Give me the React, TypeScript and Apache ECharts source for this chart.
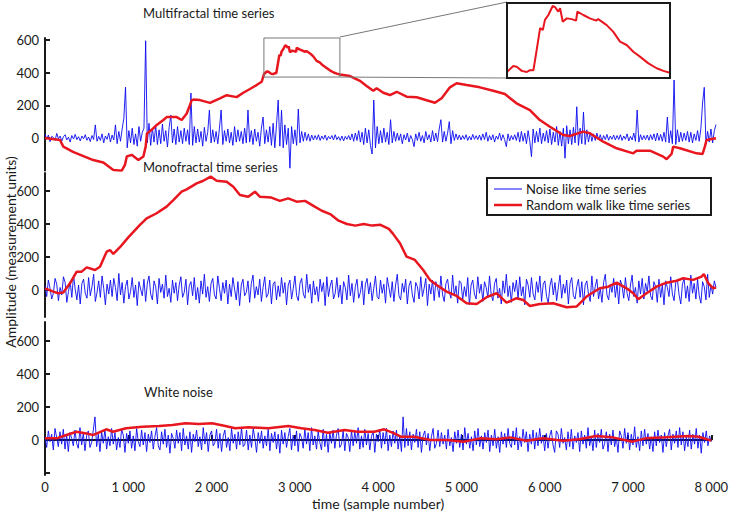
import React, { useEffect, useRef } from "react";
import * as echarts from "echarts";

// ---------- DATA ----------
const X_STEP = 20; // sample spacing of the hand-read noise traces

const MULTI_WALK: [number, number][] = [
  [0, 0], [179, -12], [218, -53], [334, -85], [575, -135], [695, -150], [815, -196], [915, -200],
  [953, -165], [975, -113], [1033, -103], [1113, -135], [1173, -113], [1200, -53], [1216, 28],
  [1272, 50], [1332, 80], [1411, 110], [1451, 128], [1570, 128], [1630, 110], [1690, 150],
  [1750, 232], [1770, 235], [1848, 232], [1967, 215], [2086, 243], [2166, 262], [2285, 250],
  [2364, 277], [2444, 300], [2523, 324], [2583, 344],
  [2612, 392], [2645, 407], [2664, 405], [2692, 394], [2720, 391], [2738, 396], [2757, 396],
  [2775, 450], [2794, 508], [2809, 503], [2821, 530], [2840, 543], [2864, 567], [2877, 564],
  [2895, 552], [2905, 561], [2920, 525], [2942, 534], [2970, 532], [2994, 528], [3001, 552],
  [3034, 543], [3071, 534], [3105, 528], [3117, 532], [3164, 516], [3201, 498], [3238, 472],
  [3275, 463], [3312, 445], [3349, 432], [3396, 414], [3442, 401], [3479, 394], [3516, 389],
  [3636, 379], [3755, 350], [3834, 318], [3914, 289], [3954, 304], [4033, 277], [4113, 263],
  [4193, 283], [4312, 253], [4431, 249], [4510, 237], [4649, 216], [4729, 243], [4828, 310],
  [4907, 335], [5027, 324], [5185, 310], [5344, 289], [5483, 269], [5622, 212], [5781, 171],
  [5900, 110], [6020, 69], [6178, 18], [6258, 12], [6417, 39], [6496, 29], [6655, -23],
  [6815, -63], [7013, -94], [7053, -78], [7212, -78], [7371, -114], [7411, -130], [7470, -98],
  [7490, -53], [7570, -63], [7768, -94], [7840, -98], [7867, -53], [7887, -12], [8000, -2],
];

const MONO_WALK: [number, number][] = [
  [0, 10], [99, -10], [159, -20], [218, -16], [298, 40], [378, 111], [437, 111], [497, 137],
  [596, 121], [656, 141], [735, 232], [775, 242], [815, 218], [894, 259], [993, 319],
  [1132, 394], [1212, 434], [1331, 465], [1450, 505], [1530, 545], [1629, 596], [1689, 610],
  [1808, 646], [1887, 662], [1975, 687], [2046, 662], [2166, 656], [2245, 626], [2324, 576],
  [2423, 565], [2503, 596], [2563, 565], [2700, 560], [2800, 540], [2900, 555], [3000, 535],
  [3100, 540], [3200, 510], [3300, 480], [3400, 460], [3500, 420], [3600, 400], [3700, 390],
  [3800, 400], [3900, 390], [4000, 395], [4100, 370], [4150, 340], [4232, 283], [4311, 202],
  [4410, 182], [4509, 121], [4589, 61], [4669, 30], [4788, -10], [4907, -36], [5027, -81],
  [5146, -85], [5265, -44], [5384, -20], [5503, -77], [5622, -50], [5702, -61], [5781, -97],
  [5900, -85], [6059, -81], [6218, -105], [6337, -101], [6457, -40], [6615, 10], [6715, 20],
  [6815, 44], [6934, 10], [7013, -20], [7073, -56], [7172, -20], [7291, 20], [7411, 44],
  [7530, 56], [7609, 71], [7728, 61], [7828, 81], [7855, 97], [7907, 41], [7967, 10], [8000, 15],
];

const WHITE_WALK: [number, number][] = [
  [0, 10], [139, 10], [258, 30], [378, 50], [497, 40], [576, 30], [735, 65], [815, 50],
  [974, 71], [1172, 81], [1371, 85], [1530, 91], [1689, 101], [1848, 97], [2006, 101],
  [2166, 85], [2285, 71], [2444, 77], [2682, 71], [2920, 85], [3079, 71], [3238, 61],
  [3397, 44], [3596, 61], [3755, 50], [3954, 50], [4073, 65], [4193, 40], [4272, 20],
  [4431, 20], [4629, 0], [4828, 0], [5027, -10], [5225, 10], [5424, 4], [5583, 16],
  [5781, -4], [5980, 10], [6218, -4], [6417, 4], [6615, 24], [6815, 16], [7053, -10],
  [7212, 10], [7450, 16], [7728, 24], [7847, 20], [8000, -4],
];

const MULTI_NOISE = [
  25, -8, 18, -22, 10, 3, -15, 28, -5, 12, -18, 8, 20, -12, 5, -25, 15, -6, 22, -10,
  8, -18, 12, -5, 20, -14, 6, -22, 15, -9, 80, -20, 10, -15, 25, -30, 12, -8, 30, -25,
  18, -12, 80, -35, 40, -20, 55, 120, 311, -60, 45, -30, 60, -40, 25, -50, 70, -20, 35, 60,
  595, -30, 90, -45, 60, -25, 75, -40, 50, -35, 85, -20, 45, -55, 65, 140, -30, 55, -40, 70,
  -25, 45, -35, 60, -20, 50, -40, 275, -45, 70, -30, 55, -25, 40, -50, 65, -20, 35, 171, -30,
  50, -25, 40, -35, 60, 171, -40, 45, -20, 55, -30, 35, -45, 70, -25, 50, -20, 40, -35, 60,
  -30, 171, -25, 45, -40, 55, -20, 35, -50, 60, 128, -35, 50, -25, 70, -45, 90, -60, 80, 232,
  -50, 171, -60, 80, -40, 60, -185, 70, -35, 50, -45, 177, -30, 40, -20, 35, -15, 25, -20, 18,
  -12, 15, -10, 20, -15, 12, -8, 18, -14, 10, -6, 15, -12, 20, -10, 8, -15, 12, -18, 10,
  -8, 15, -12, 25, -20, 30, -15, 45, -25, 35, -40, 60, -30, 50, -45, -98, 232, -60, 70, -35,
  45, -30, 60, -25, 35, -40, 112, -30, 40, -20, 30, -15, 25, -35, 20, -12, 30, -25, 15, -10,
  -53, 25, -15, 35, -20, 15, -30, 40, -12, 20, -25, 45, -18, 30, -22, 55, 112, -25, 40, -20,
  30, 100, -35, 45, -15, 25, -10, 18, -12, 15, -8, 20, -15, 10, -12, 22, -8, 14, -10, 18,
  -14, 25, -10, 35, -20, 15, -12, 20, -25, 12, -8, 30, -15, 20, -10, -53, 25, -18, 15, -10,
  20, -15, 35, -25, 40, -20, 30, -35, 45, -20, -114, 55, -30, 40, -25, 60, -35, 30, -20, 45,
  -30, 55, -40, 35, -25, 70, -45, 40, -50, 60, -124, 75, -35, 50, -40, 65, -30, 191, -45, 60,
  -35, 159, -40, 50, -25, 35, -20, 25, -15, 30, -12, 20, -18, 15, -10, 22, -14, 12, -8, 18,
  -12, 15, -10, 20, -15, 12, -8, 25, -18, 10, -12, 30, -20, 171, -25, 20, -12, 15, -10, 18,
  -14, 20, -10, 25, -18, 30, -15, 22, -20, 35, -25, 128, -30, 45, -35, 355, -40, 50, -25, 35,
  -20, 30, -15, 40, -25, 35, -30, 25, -15, 45, -20, 60, 214, 310, -35, 40, -25, 55, -30, 45,
  82,
];

const MONO_NOISE = [
  25, -40, 60, 10, -55, -20, 70, 35, -65, 15, -30, 80, 45, -75, -10, 50, -45, 90, 5, -60,
  30, -85, 40, 65, -20, -50, 75, -35, 20, 95, -70, -15, 55, -45, 85, 10, -90, 35, -25, 60,
  -40, 70, 15, -65, 100, -30, 45, -80, 20, 60, -55, -10, 75, -45, 30, -95, 50, 5, -35, 65,
  -70, 40, 85, -25, -60, 55, 20, -85, 70, -15, 35, -50, 90, -40, 10, -75, 60, -20, 45, -65,
  30, 80, -45, -15, 65, -90, 25, 50, -35, 75, -60, 15, -80, 55, -25, 95, -45, 20, -70, 40,
  70, -30, -55, 85, 10, -65, 45, -20, 60, -85, 35, -40, 75, 5, -60, 50, -95, 30, 65, -35,
  -15, 55, -75, 40, 90, -50, 20, -30, 65, -70, 15, 80, -45, -25, 60, -85, 35, 50, -60, 25,
  -40, 75, -20, 45, -90, 30, 60, -55, 10, 85, -35, -65, 40, 70, -25, -50, 95, -15, 35, -80,
  55, -30, 20, -70, 65, -10, 45, -95, 80, -40, 25, 60, -55, -20, 75, -45, 30, -85, 50, 15,
  -60, 90, -35, 40, -75, 20, 65, -50, -15, 55, -90, 35, 70, -25, 45, -65, 10, 85, -40, -55,
  60, -20, 35, -80, 75, 15, -45, 50, -70, 30, 95, -35, -60, 40, -15, 65, -85, 25, 55, -30,
  -75, 45, 20, -55, 80, -40, 10, 70, -95, 35, -25, 60, -65, 50, 15, -45, 85, -30, -70, 40,
  65, -15, -50, 90, -35, 25, -80, 55, 45, -60, 20, -40, 75, -90, 30, 60, -25, -55, 80, -20,
  35, -70, 50, 15, -45, 85, -30, -65, 40, 70, -50, 10, -85, 55, -20, 95, -40, 25, -75, 45,
  -10, 60, -55, 80, -35, 20, -90, 65, 30, -45, 75, -25, -60, 50, -15, 85, -70, 35, 55, -40,
  -80, 25, 70, -30, 45, -65, 15, 90, -50, 35, -20, 60, -85, 40, 75, -35, -55, 20, 65, -45,
  50, -90, 30, 55, -25, -70, 85, -40, 20, 65, -55, 10, -75, 45, 95, -30, -60, 35, -15, 70,
  -45, 40, -85, 60, 25, -50, 75, -20, -65, 30, 90, -40, 15, -80, 55, -25, 70, -55, 40, -10,
  85, -35, -60, 50, 20, -75, 65, -45, 30, -90, 55, 15, -40, 80, -25, -65, 45, 60, -30, -85,
  35, 70, -50, 25, -70, 90, -20, 40, -55, 65, -35, -80, 50, 20, -60, 95, -45, 30, -25, 55,
  15,
];

const WHITE_NOISE = [
  20, -45, 55, -10, 35, -60, 70, 15, -40, 50, -25, 65, -55, 30, -70, 45, 10, -35, 60, -20,
  -50, 75, -30, 40, -65, 25, 55, -45, -15, 60, 140, -40, 35, -70, 50, -20, 65, -55, 20, -35,
  70, -25, 45, -60, 15, -45, 65, 30, -75, 40, -20, 55, -50, 25, -65, 70, -10, -40, 60, -30,
  45, -70, 35, -15, 55, -55, 20, 75, -35, -60, 50, -25, 65, -45, 30, -80, 40, 10, -50, 60,
  -20, 45, -65, 70, -30, 25, -55, 50, -75, 35, -10, 60, -40, 20, -60, 75, -25, 45, -70, 30,
  55, -35, -15, 65, -50, 40, -70, 25, 60, -45, 15, -65, 70, -20, 35, -55, 50, -30, 75, -40,
  -25, 60, -60, 30, -45, 70, 10, -75, 45, -20, 55, -50, 25, -35, 65, -65, 40, -15, 50, -55,
  35, -80, 60, -25, 45, -45, 20, 70, -60, 30, -35, 55, -70, 40, 15, -50, 65, -25, 45, -65,
  75, -30, 25, -55, 50, -15, -60, 65, -40, 35, -75, 45, -20, 60, -50, 30, 70, -45, -25, 55,
  -65, 40, 15, -70, 60, -35, 50, -20, 75, -55, 25, -45, 65, -30, 40, -60, 20, 55, -75, 35,
  -10, 65, -50, 45, -25, 70, -65, 30, -40, 55, -20, 60, -55, 25, -70, 140, -45, 70, -35, 50,
  -60, 35, -15, 65, -45, 50, -75, 25, 55, -30, 40, -65, 20, 70, -50, -20, 60, -40, 45, -25,
  30, -55, 65, -35, 15, -70, 50, -20, 60, -45, 35, -60, 75, -25, 40, -50, 20, -65, 55, -30,
  70, -40, 25, -55, 45, -15, 60, -70, 30, -35, 65, -50, 20, -75, 50, -25, 40, -45, 70, -20,
  -45, 55, -30, 75, -60, 20, -40, 65, -15, 50, -70, 35, -25, 60, -55, 45, -35, 70, -20, 30,
  -65, 40, -50, 25, 60, -30, -75, 55, 35, -45, 70, -20, 15, -60, 50, -40, 65, -55, 25, -15,
  45, -70, 55, -25, 30, -50, 75, -35, 20, -65, 60, -45, 40, -15, 65, -55, -20, 50, -70, 35,
  -30, 60, -40, 15, -75, 55, 25, -50, 70, -20, 45, -60, 35, -30, 80, -45, 20, -65, 55, -35,
  65, -25, 40, -55, 20, -70, 50, -35, 60, -15, 30, -75, 45, -40, 25, 65, -60, 35, -20, 55,
  -45, 75, -30, 50, -65, 20, -40, 60, -55, 35, -25, 70, -50, 30, -80, 45, -15, 55, -35, 25,
  -10,
];

const PANEL_TITLES = ["Multifractal time series", "Monofractal time series", "White noise"];
const Y_TICKS = [0, 200, 400, 600];
const Y_TICKS_BOTTOM = [-200, 0, 200, 400, 600];
const X_MAX = 8000;
const ZOOM_X = [2610, 3516];
const ZOOM_Y = [373, 612];
const INSET_Y = [375, 575];
const NOISE_NAME = "Noise like time series";
const WALK_NAME = "Random walk like time series";

// ---------- STYLE ----------
const FONT = "Lato, 'Open Sans', sans-serif";
const BLUE = "#0a0af0";
const RED = "#e8161e";
const INK = "#1a1a1a";

const toPairs = (arr: number[]) => arr.map((v, i) => [i * X_STEP, v]);

export default function App() {
  const ref = useRef<HTMLDivElement>(null);

  useEffect(() => {
    document.body.style.margin = "0";
    if (!ref.current) return;
    const chart = echarts.init(ref.current, null, { renderer: "svg" });

    const yAxisBase = (min: number, max: number, gridIndex: number, ticks: number[]) => ({
      type: "value",
      gridIndex,
      min,
      max,
      axisLine: { show: true, lineStyle: { color: INK, width: 2 } },
      axisTick: { show: true, inside: true, length: 5, lineStyle: { color: INK, width: 2 }, customValues: ticks },
      axisLabel: { color: INK, fontSize: 13, fontFamily: FONT, margin: 6, customValues: Y_TICKS },
      splitLine: { show: false },
    });
    const hiddenX = (gridIndex: number, min: number, max: number) => ({
      type: "value", gridIndex, min, max, show: false, splitLine: { show: false },
    });

    const noiseSeries = (data: number[], idx: number) => ({
      name: NOISE_NAME,
      type: "line",
      xAxisIndex: idx,
      yAxisIndex: idx,
      data: toPairs(data),
      symbol: "none",
      lineStyle: { color: BLUE, width: 0.9 },
      itemStyle: { color: BLUE },
      z: 2,
    });
    const walkSeries = (data: [number, number][], idx: number, width = 2.5) => ({
      name: WALK_NAME,
      type: "line",
      xAxisIndex: idx,
      yAxisIndex: idx,
      data,
      symbol: "none",
      lineStyle: { color: RED, width },
      itemStyle: { color: RED },
      z: 3,
    });

    chart.setOption({
      animation: false,
      backgroundColor: "#ffffff",
      textStyle: { fontFamily: FONT },
      grid: [
        { left: 45, width: 671, top: 38, height: 132.5 },
        { left: 45, width: 671, top: 173, height: 144 },
        { left: 45, width: 671, top: 322, height: 153 },
        { left: 507, width: 163, top: 3, height: 75 },
      ],
      xAxis: [
        hiddenX(0, 0, X_MAX),
        hiddenX(1, 0, X_MAX),
        {
          type: "value",
          gridIndex: 2,
          min: 0,
          max: X_MAX,
          interval: 1000,
          axisLine: { show: true, lineStyle: { color: INK, width: 2 } },
          axisTick: { show: true, inside: true, length: 5, lineStyle: { color: INK, width: 2 } },
          axisLabel: {
            color: INK,
            fontSize: 13,
            lineHeight: 14,
            fontFamily: FONT,
            margin: 5,
            formatter: (v: number) => (v === 0 ? "0" : `${Math.round(v / 1000)} 000`),
          },
          splitLine: { show: false },
          name: "time (sample number)",
          nameLocation: "middle",
          nameGap: 21,
          nameTextStyle: { color: INK, fontSize: 14, lineHeight: 14, fontFamily: FONT },
        },
        hiddenX(3, ZOOM_X[0], ZOOM_X[1]),
      ],
      yAxis: [
        yAxisBase(-199, 612, 0, Y_TICKS),
        yAxisBase(-164, 709, 1, Y_TICKS),
        yAxisBase(-212, 715, 2, Y_TICKS_BOTTOM),
        { type: "value", gridIndex: 3, min: INSET_Y[0], max: INSET_Y[1], show: false, splitLine: { show: false } },
      ],
      series: [
        noiseSeries(MULTI_NOISE, 0),
        walkSeries(MULTI_WALK, 0),
        noiseSeries(MONO_NOISE, 1),
        walkSeries(MONO_WALK, 1),
        noiseSeries(WHITE_NOISE, 2),
        walkSeries(WHITE_WALK, 2),
        walkSeries(MULTI_WALK, 3, 2),
      ],
    });

    const p1 = chart.convertToPixel({ gridIndex: 0 }, [ZOOM_X[0], ZOOM_Y[1]]) as number[];
    const p2 = chart.convertToPixel({ gridIndex: 0 }, [ZOOM_X[1], ZOOM_Y[0]]) as number[];
    const inset = { x: 507, y: 3, w: 163, h: 75 };
    const legendBox = { x: 487, y: 178, w: 224, h: 37 };

    const plainText = (text: string, x: number, y: number, size = 13) => ({
      type: "text",
      x,
      y,
      style: { text, fill: INK, fontSize: size, fontFamily: FONT, align: "left", verticalAlign: "middle" },
      z: 10,
    });

    chart.setOption({
      graphic: [
        {
          type: "rect",
          shape: { x: p1[0], y: p1[1], width: p2[0] - p1[0], height: p2[1] - p1[1] },
          style: { fill: "none", stroke: "#777", lineWidth: 1 },
          z: 10,
        },
        {
          type: "line",
          shape: { x1: p2[0], y1: p1[1] - 1, x2: inset.x, y2: inset.y - 1 },
          style: { stroke: "#777", lineWidth: 1 },
          z: 10,
        },
        {
          type: "line",
          shape: { x1: p2[0], y1: p2[1], x2: inset.x, y2: inset.y + inset.h },
          style: { stroke: "#777", lineWidth: 1 },
          z: 10,
        },
        {
          type: "rect",
          shape: { x: inset.x, y: inset.y, width: inset.w, height: inset.h },
          style: { fill: "none", stroke: INK, lineWidth: 2 },
          z: 10,
        },
        // legend
        {
          type: "rect",
          shape: { x: legendBox.x, y: legendBox.y, width: legendBox.w, height: legendBox.h },
          style: { fill: "#ffffff", stroke: INK, lineWidth: 2 },
          z: 10,
        },
        {
          type: "line",
          shape: { x1: 494, y1: 189, x2: 522, y2: 189 },
          style: { stroke: BLUE, lineWidth: 1 },
          z: 11,
        },
        {
          type: "line",
          shape: { x1: 494, y1: 205, x2: 522, y2: 205 },
          style: { stroke: RED, lineWidth: 2.5 },
          z: 11,
        },
        plainText(NOISE_NAME, 526, 189),
        plainText(WALK_NAME, 526, 205),
        // panel titles
        plainText(PANEL_TITLES[0], 143, 13),
        plainText(PANEL_TITLES[1], 143, 167),
        plainText(PANEL_TITLES[2], 144, 392),
        {
          type: "text",
          x: 10,
          y: 252,
          rotation: Math.PI / 2,
          style: {
            text: "Amplitude (measurement units)",
            fill: INK,
            fontSize: 14,
            fontFamily: FONT,
            align: "center",
            verticalAlign: "middle",
          },
          z: 10,
        },
      ],
    });

    return () => chart.dispose();
  }, []);

  return <div ref={ref} style={{ width: 731, height: 511 }} />;
}
